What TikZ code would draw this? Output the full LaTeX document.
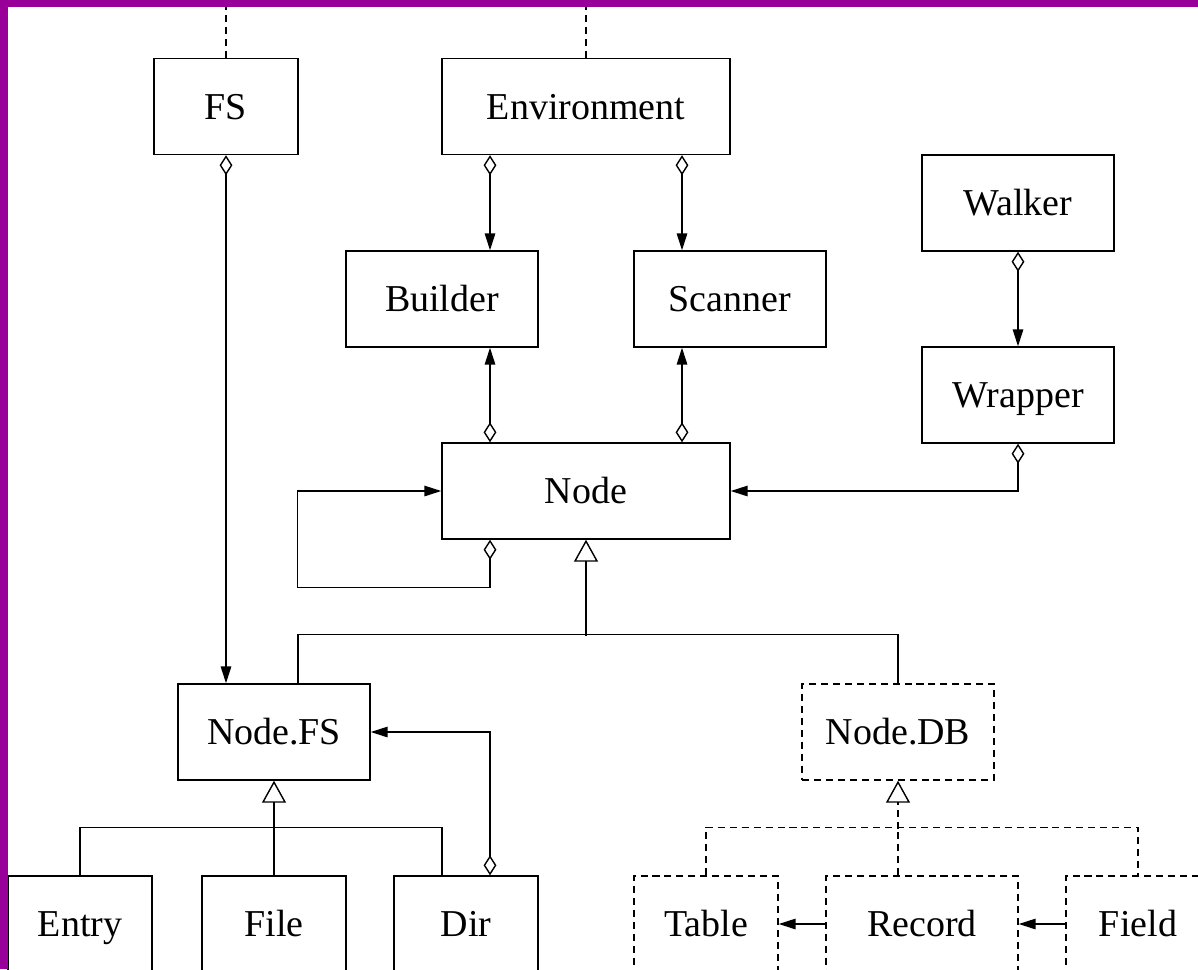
\documentclass[tikz,border=0pt]{standalone}
\usepackage{fontspec}
\setmainfont{Liberation Serif}
\usetikzlibrary{arrows.meta, calc}
\definecolor{frame}{RGB}{153,0,153}

\begin{document}
\begin{tikzpicture}[
    x=0.025cm, y=-0.025cm,
    classbox/.style={rectangle, draw, line width=1pt, inner sep=0pt, minimum width=4.8cm, minimum height=2.4cm, text height=17.8pt, text depth=0pt, font=\fontsize{27}{31}\selectfont},
    narrowbox/.style={classbox, minimum width=3.6cm},
    widebox/.style={classbox, minimum width=7.2cm},
    dbbox/.style={classbox, dashed, dash pattern=on 5pt off 3.5pt},
    link/.style={line width=1pt},
    aggr/.style={link, {Diamond[open, length=0.5cm, width=0.32cm]}-{Triangle[length=0.42cm, width=0.26cm]}},
    arrow/.style={link, -{Triangle[length=0.42cm, width=0.26cm]}},
    isa/.style={link, -{Triangle[open, length=0.55cm, width=0.6cm]}},
    dbline/.style={link, dash pattern=on 5pt off 3.5pt}
  ]
  \clip (0,0) rectangle (1198,969);
  \fill[white] (0,0) rectangle (1198,969);
  \coordinate (top) at (0,7);

  % upper classes
  \node[narrowbox] (fs) at (226,106.5) {FS};
  \node[widebox] (env) at (586,106.5) {Environment};
  \node[classbox] (builder) at (442,299) {Builder};
  \node[classbox] (scanner) at (730,299) {Scanner};
  \node[classbox] (walker) at (1018,203) {Walker};
  \node[classbox] (wrapper) at (1018,395) {Wrapper};
  \node[widebox] (node) at (586,491) {Node};

  % file system side
  \node[classbox] (nodefs) at (274,732) {Node.FS};
  \node[narrowbox] (entry) at (80,924) {Entry};
  \node[narrowbox] (file) at (274,924) {File};
  \node[narrowbox] (dir) at (466,924) {Dir};

  % database side (dashed)
  \node[dbbox] (nodedb) at (898,732) {Node.DB};
  \node[dbbox, minimum width=3.6cm] (table) at (706,924) {Table};
  \node[dbbox] (record) at (922,924) {Record};
  \node[dbbox, minimum width=3.6cm] (field) at (1138,924) {Field};

  % lines going off the top
  \draw[dbline] (fs.north) -- (fs.north |- top);
  \draw[dbline] (env.north) -- (env.north |- top);

  % aggregations
  \draw[aggr] ($(env.south)+(-96,0)$) -- ($(builder.north)+(48,0)$);
  \draw[aggr] ($(env.south)+(96,0)$) -- ($(scanner.north)+(-48,0)$);
  \draw[aggr] ($(node.north)+(-96,0)$) -- ($(builder.south)+(48,0)$);
  \draw[aggr] ($(node.north)+(96,0)$) -- ($(scanner.south)+(-48,0)$);
  \draw[aggr] (walker.south) -- (wrapper.north);
  \draw[aggr] (wrapper.south) |- (node.east);
  \draw[aggr] ($(node.south)+(-96,0)$) -- ++(0,48) -| ($(node.west)+(-144,0)$) -- (node.west);
  \draw[aggr] (fs.south) -- (fs.south |- nodefs.north);
  \draw[aggr] ($(dir.north)+(24,0)$) |- (nodefs.east);

  % Node subclasses
  \draw[isa] ($(node.south)+(0,96)$) -- (node.south);
  \draw[link] ($(nodefs.north)+(24,0)$) -- ++(0,-49) -| (nodedb.north);

  % Node.FS subclasses
  \draw[isa] ($(nodefs.south)+(0,48)$) -- (nodefs.south);
  \draw[link] (entry.north) -- ++(0,-48) -| ($(dir.north)+(-24,0)$);
  \draw[link] (file.north) -- ++(0,-48);

  % Node.DB subclasses
  \draw[isa, dash pattern=on 5pt off 3.5pt] ($(nodedb.south)+(0,48)$) -- (nodedb.south);
  \draw[dbline] (table.north) -- ++(0,-48) -| (field.north);
  \draw[dbline] ($(record.north)+(-24,0)$) -- ++(0,-48);
  \draw[arrow] (record.west) -- (table.east);
  \draw[arrow] (field.west) -- (record.east);

  % frame
  \fill[frame] (0,0) rectangle (8,969);
  \fill[frame] (0,0) rectangle (1198,7);
\end{tikzpicture}
\end{document}
